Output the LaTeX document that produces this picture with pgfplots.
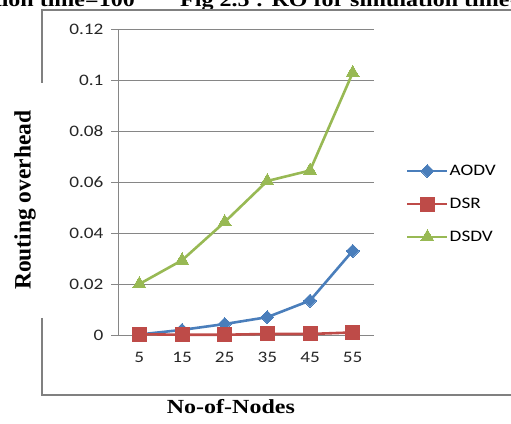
\documentclass[border=0pt]{standalone}
\usepackage{pgfplots}
\pgfplotsset{compat=1.18}
\usepackage{fontspec}
\setmainfont{Liberation Serif}
\newfontfamily\calibri[FakeStretch=1.2]{Carlito}
\newfontfamily\widebold[FakeStretch=1.2]{Liberation Serif}

\definecolor{aodv}{RGB}{74,126,187}
\definecolor{dsr}{RGB}{190,75,72}
\definecolor{dsdv}{RGB}{152,185,84}
\definecolor{gridgray}{RGB}{134,134,134}
\definecolor{framegray}{RGB}{128,128,128}

\begin{document}
\begin{tikzpicture}[x=1pt,y=1pt]
% captions of the neighbouring figures, cut at the top edge
\node[anchor=base east, inner sep=0pt, font=\widebold\bfseries\fontsize{20}{24}\selectfont] at (135,416) {tion time=100};
\node[anchor=base west, inner sep=0pt, font=\widebold\bfseries\fontsize{20}{24}\selectfont] at (180,416) {Fig 2.5 : RO for simulation time=100};
% frame around the chart area
\draw[framegray, line width=1.6pt] (42,340) -- (42,413) -- (520,413);
\draw[framegray, line width=1.6pt] (42,105) -- (42,28) -- (520,28);

\begin{axis}[
  at={(118pt,88pt)}, anchor=south west,
  scale only axis, width=256pt, height=306pt,
  xmin=-0.5, xmax=5.5, ymin=0, ymax=0.12,
  axis lines=left, axis line style={-, gridgray, line width=0.8pt},
  xtick={0,1,2,3,4,5},
  xticklabels={5,15,25,35,45,55},
  x tick style={draw=none},
  extra x ticks={-0.5,0.5,1.5,2.5,3.5,4.5,5.5},
  extra x tick labels={},
  extra x tick style={major tick length=6pt, tick align=outside, tick style={draw=gridgray, line width=0.8pt}, grid=none},
  ytick={0,0.02,0.04,0.06,0.08,0.1,0.12},
  yticklabels={0,0.02,0.04,0.06,0.08,0.1,0.12},
  y tick style={draw=gridgray, line width=0.8pt},
  major tick length=7pt, tick align=outside,
  ymajorgrids, grid style={gridgray, line width=0.8pt},
  tick label style={font=\calibri\fontsize{16}{19}\selectfont, text=black!85},
  yticklabel style={xshift=-4pt},
  xticklabel style={yshift=-7pt},
  xlabel={No-of-Nodes},
  xlabel style={at={(axis description cs:0.441,-0.235)}, anchor=center, font=\widebold\bfseries\fontsize{20}{24}\selectfont},
  ylabel={Routing overhead},
  ylabel style={at={(axis description cs:-0.363,0.441)}, anchor=center, font=\bfseries\fontsize{23.5}{28}\selectfont},
  clip=false,
  every axis plot/.append style={line width=2.6pt},
  legend image code/.code={\draw[mark repeat=2,mark phase=2] plot coordinates {(0pt,0pt)(20pt,0pt)(40pt,0pt)};},
  legend style={at={(axis description cs:1.113,0.428)}, anchor=west, draw=none, fill=none,
    font=\calibri\fontsize{16}{19}\selectfont, row sep=18pt,
    nodes={inner sep=1pt, text height=11pt, text depth=2pt}},
  legend cell align=left,
]
\addplot[color=aodv, mark=square*, mark size=4.6pt, mark options={rotate=45, line width=0pt}]
  coordinates {(0,0.0002) (1,0.0020) (2,0.0043) (3,0.0070) (4,0.0135) (5,0.0330)};
\addlegendentry{AODV}
\addplot[color=dsr, mark=square*, mark size=7pt, mark options={line width=0pt}]
  coordinates {(0,0.0003) (1,0.0001) (2,0.0001) (3,0.0004) (4,0.0004) (5,0.0010)};
\addlegendentry{DSR}
\addplot[color=dsdv, mark=triangle*, mark size=7.5pt, mark options={line width=0pt}]
  coordinates {(0,0.0200) (1,0.0293) (2,0.0443) (3,0.0604) (4,0.0645) (5,0.1028)};
\addlegendentry{DSDV}
\end{axis}

\pgfresetboundingbox
\path[use as bounding box] (0,0) rectangle (511,423);
\end{tikzpicture}
\end{document}
